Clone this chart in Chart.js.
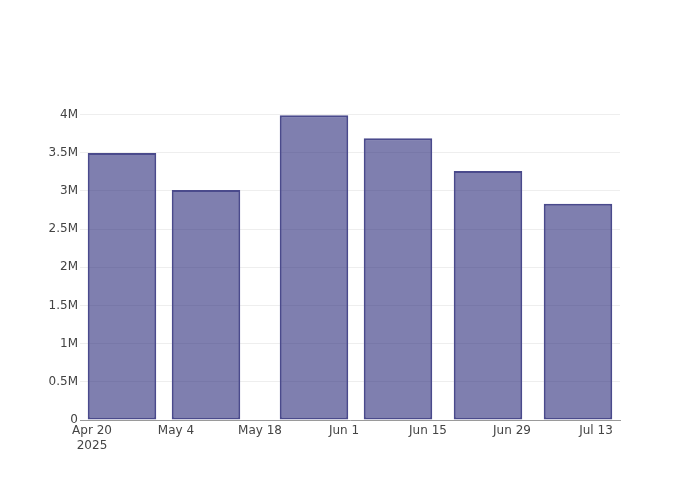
<!DOCTYPE html>
<html>
<head>
<meta charset="utf-8">
<script src="https://cdn.jsdelivr.net/npm/chart.js@4"></script>
<style>
html,body{margin:0;padding:0;background:#fff;}
#wrap{width:700px;height:500px;}
</style>
</head>
<body>
<div id="wrap"><canvas id="c" width="700" height="500"></canvas></div>
<script>
// ---- data ----
const dates = ['2025-04-25', '2025-05-09', '2025-05-27', '2025-06-10', '2025-06-25', '2025-07-10'];
const values = [3495000, 3010000, 3990000, 3690000, 3260000, 2830000];
const tickDates = ['2025-04-20', '2025-05-04', '2025-05-18', '2025-06-01', '2025-06-15', '2025-06-29', '2025-07-13'];
const tickLabels = [['Apr 20', '2025'], 'May 4', 'May 18', 'Jun 1', 'Jun 15', 'Jun 29', 'Jul 13'];
const yTicks = [0, 500000, 1000000, 1500000, 2000000, 2500000, 3000000, 3500000, 4000000];
const xRange = ['2025-04-18', '2025-07-17'];
const yMax = 4190000;

const base = Date.UTC(2025, 3, 20);
function dayOf(s) {
  const p = s.split('-').map(Number);
  return (Date.UTC(p[0], p[1] - 1, p[2]) - base) / 86400000;
}
const tickDays = tickDates.map(dayOf);

new Chart(document.getElementById('c'), {
  type: 'bar',
  data: {
    datasets: [{
      data: dates.map((d, i) => ({ x: dayOf(d), y: values[i] })),
      backgroundColor: 'rgba(42,42,122,0.6)',
      borderColor: 'rgb(74,74,140)',
      borderWidth: 2,
      borderSkipped: false,
      categoryPercentage: 0.8,
      barPercentage: 1.02
    }]
  },
  options: {
    responsive: false,
    animation: false,
    layout: { padding: { top: 100, right: 80, left: 0, bottom: 0 } },
    plugins: { legend: { display: false }, tooltip: { enabled: false } },
    scales: {
      x: {
        type: 'linear',
        offset: false,
        min: dayOf(xRange[0]),
        max: dayOf(xRange[1]),
        grid: { display: false, drawTicks: false, offset: false },
        border: { display: true, color: '#9a9a9a', width: 1 },
        afterBuildTicks: s => { s.ticks = tickDays.map(v => ({ value: v })); },
        afterFit: s => { s.height = 80; },
        ticks: {
          autoSkip: false,
          maxRotation: 0,
          padding: 4,
          color: '#444',
          font: { family: 'DejaVu Sans', size: 12 },
          callback: (v) => { const i = tickDays.indexOf(v); return i >= 0 ? tickLabels[i] : ''; }
        }
      },
      y: {
        min: 0,
        max: yMax,
        grid: { color: '#eeeeee', lineWidth: 1, drawTicks: false },
        border: { display: false },
        afterBuildTicks: s => { s.ticks = yTicks.map(v => ({ value: v })); },
        afterFit: s => { s.width = 80; },
        ticks: {
          padding: 2,
          color: '#444',
          font: { family: 'DejaVu Sans', size: 12 },
          callback: v => v === 0 ? '0' : (v / 1e6) + 'M'
        }
      }
    }
  }
});
</script>
</body>
</html>
